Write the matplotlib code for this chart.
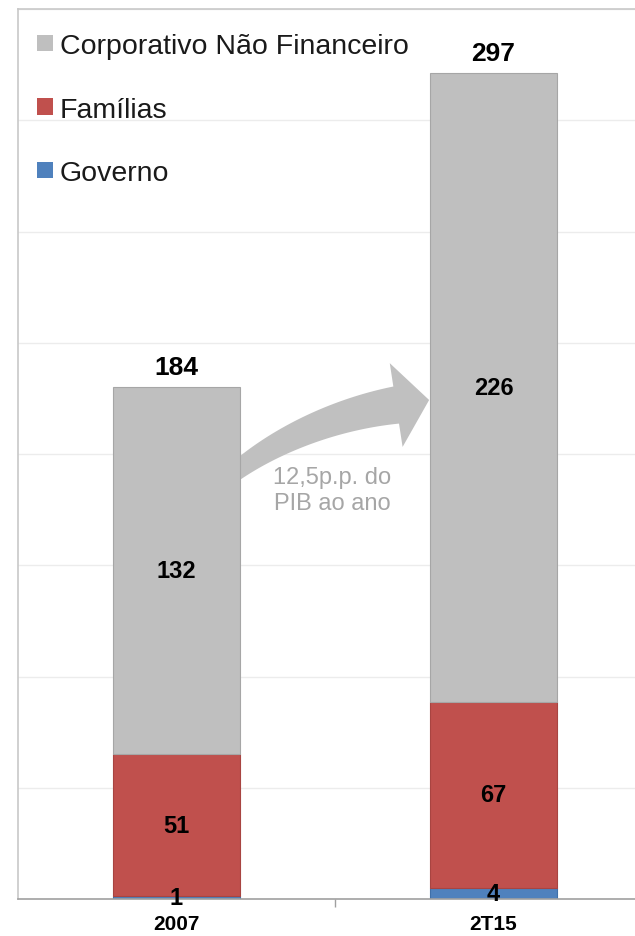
import matplotlib
matplotlib.use("Agg")
import matplotlib.pyplot as plt
from matplotlib.patches import Patch, Polygon
import numpy as np

plt.rcParams['font.family'] = ['Liberation Sans', 'DejaVu Sans']

categories = ["2007", "2T15"]
governo = [1, 4]
familias = [51, 67]
corporativo = [132, 226]
series_names = ["Corporativo Não Financeiro", "Famílias", "Governo"]
annotation = "12,5p.p. do\nPIB ao ano"

c_corp = "#BFBFBF"
c_fam = "#C0504D"
c_gov = "#4F81BD"

DPI = 100
fig = plt.figure(figsize=(6.35, 9.37), dpi=DPI)
ax = fig.add_axes([18 / 635, 1 - 900 / 937, 634 / 635, 890 / 937])

x = np.arange(len(categories))
w = 0.4
gov = np.array(governo)
fam = np.array(familias)
corp = np.array(corporativo)
total = gov + fam + corp

ax.bar(x, gov, w, color=c_gov, edgecolor="#3F6FA8", linewidth=0.8, zorder=2)
ax.bar(x, fam, w, bottom=gov, color=c_fam, edgecolor="#A84441", linewidth=0.8, zorder=2)
ax.bar(x, corp, w, bottom=gov + fam, color=c_corp, edgecolor="#A6A6A6", linewidth=0.8, zorder=2)

ax.set_xlim(-0.5, 1.5)
ax.set_ylim(0, 320)
ax.set_yticks(np.arange(0, 321, 40))
ax.yaxis.grid(True, color="#ECECEC", linewidth=1.0)
ax.set_axisbelow(True)
ax.tick_params(axis="y", left=False, labelleft=False)

ax.set_xticks(x)
ax.set_xticklabels(categories, fontsize=15, fontweight="bold")
ax.tick_params(axis="x", length=0, pad=11)
ax.set_xticks([0.5], minor=True)
ax.tick_params(axis="x", which="minor", length=6, color="#A0A0A0", width=1)

for s in ["top", "left"]:
    ax.spines[s].set_color("#C8C8C8")
    ax.spines[s].set_linewidth(1.2)
ax.spines["right"].set_visible(False)
ax.spines["bottom"].set_color("#A0A0A0")
ax.spines["bottom"].set_linewidth(1.2)


def tapered_arrow(ax, ctrl, w0, w1, head_w, head_len, color, zorder):
    """Curved arrow along a cubic Bezier, shaft widening from w0 to w1 (points)."""
    px = DPI / 72.0
    P = ax.transData.transform(np.asarray(ctrl, dtype=float))
    t = np.linspace(0, 1, 80)[:, None]
    B = ((1 - t) ** 3 * P[0] + 3 * (1 - t) ** 2 * t * P[1]
         + 3 * (1 - t) * t ** 2 * P[2] + t ** 3 * P[3])
    dB = (3 * (1 - t) ** 2 * (P[1] - P[0]) + 6 * (1 - t) * t * (P[2] - P[1])
          + 3 * t ** 2 * (P[3] - P[2]))
    tang = dB / np.linalg.norm(dB, axis=1, keepdims=True)
    norm = np.column_stack([-tang[:, 1], tang[:, 0]])
    half = (w0 + (w1 - w0) * t) * px / 2
    left = B + norm * half
    right = B - norm * half
    end, d, n = B[-1], tang[-1], norm[-1]
    tip = end + d * head_len * px
    c1 = end + n * head_w * px / 2
    c2 = end - n * head_w * px / 2
    pts = np.vstack([left, c1, tip, c2, right[::-1]])
    pts = ax.transData.inverted().transform(pts)
    ax.add_patch(Polygon(pts, closed=True, facecolor=color, edgecolor="none",
                         zorder=zorder))


# curved arrow from the 2007 bar towards the 2T15 bar (drawn behind the bars)
tapered_arrow(ax, [(0.07, 140.5), (0.174, 156.5), (0.418, 172.8), (0.693, 177.6)],
              w0=8, w1=27, head_w=61, head_len=24, color="#C0C0C0", zorder=1.5)
ax.text(0.49, 147, annotation, ha="center", va="center", fontsize=17,
        color="#A6A6A6", linespacing=1.2, zorder=4)

# segment values
for xi in x:
    ax.text(xi, gov[xi] / 2, str(gov[xi]), ha="center", va="center",
            fontsize=17, fontweight="bold", zorder=5)
    ax.text(xi, gov[xi] + fam[xi] / 2, str(fam[xi]), ha="center", va="center",
            fontsize=17, fontweight="bold", zorder=5)
    ax.text(xi, gov[xi] + fam[xi] + corp[xi] / 2, str(corp[xi]), ha="center",
            va="center", fontsize=17, fontweight="bold", zorder=5)
    ax.annotate(str(total[xi]), (xi, total[xi]), xytext=(0, 6),
                textcoords="offset points", ha="center", va="bottom",
                fontsize=19, fontweight="bold", zorder=5)

handles = [Patch(facecolor=c, edgecolor="none") for c in (c_corp, c_fam, c_gov)]
leg = fig.legend(handles, series_names, loc="upper left",
                 bbox_to_anchor=(37 / 635, 1 - 34 / 937), frameon=False,
                 fontsize=20.5, handlelength=0.55, handleheight=0.5,
                 handletextpad=0.25, labelspacing=1.32, borderpad=0,
                 borderaxespad=0)
for t in leg.get_texts():
    t.set_color("#1A1A1A")

fig.savefig("out.png", dpi=DPI)
